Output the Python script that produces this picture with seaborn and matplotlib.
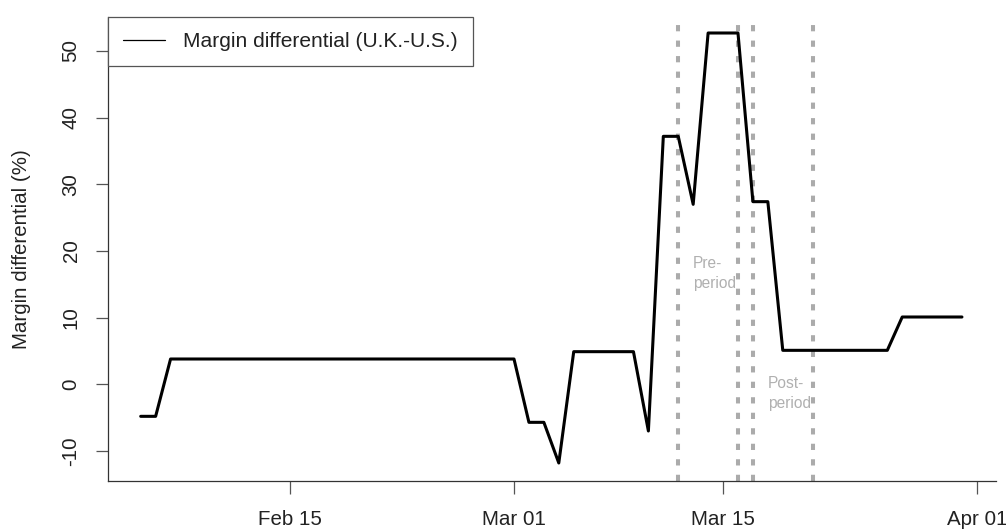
import matplotlib
matplotlib.use("Agg")
import matplotlib.pyplot as plt
import matplotlib.dates as mdates
import pandas as pd
import seaborn as sns

# ---------------- data ----------------
start_date = "2020-02-05"
end_date = "2020-03-31"
margin_diff = [
    -4.8, -4.8,                                   # Feb 5-6
    3.8, 3.8, 3.8, 3.8, 3.8, 3.8, 3.8, 3.8,       # Feb 7-14
    3.8, 3.8, 3.8, 3.8, 3.8, 3.8, 3.8, 3.8,       # Feb 15-22
    3.8, 3.8, 3.8, 3.8, 3.8, 3.8, 3.8,            # Feb 23-29
    3.8,                                          # Mar 1
    -5.7, -5.7,                                   # Mar 2-3
    -11.8,                                        # Mar 4
    4.9, 4.9, 4.9, 4.9, 4.9,                      # Mar 5-9
    -7.0,                                         # Mar 10
    37.2, 37.2,                                   # Mar 11-12
    27.0,                                         # Mar 13
    52.7, 52.7, 52.7,                             # Mar 14-16
    27.4, 27.4,                                   # Mar 17-18
    5.1, 5.1, 5.1, 5.1, 5.1, 5.1, 5.1, 5.1,       # Mar 19-26
    10.1, 10.1, 10.1, 10.1, 10.1,                 # Mar 27-31
]
period_lines = ["2020-03-12", "2020-03-16", "2020-03-17", "2020-03-21"]
x_tick_dates = ["2020-02-15", "2020-03-01", "2020-03-15", "2020-04-01"]
x_tick_labels = ["Feb 15", "Mar 01", "Mar 15", "Apr 01"]
y_ticks = [-10, 0, 10, 20, 30, 40, 50]
series_label = "Margin differential (U.K.-U.S.)"
y_label = "Margin differential (%)"

dates = pd.date_range(start_date, end_date, freq="D")
df = pd.DataFrame({"date": dates, "diff": margin_diff})

# ---------------- style ----------------
sns.set_style("white")
plt.rcParams["font.family"] = ["Liberation Sans", "DejaVu Sans"]

W, H = 1006, 529
fig = plt.figure(figsize=(W / 100, H / 100), dpi=100)
L, R, T, B = 108, 996, 17, 481
ax = fig.add_axes([L / W, 1 - B / H, (R - L) / W, (B - T) / H])

sns.lineplot(data=df, x="date", y="diff", color="black", linewidth=2.2,
             label=series_label, ax=ax, zorder=3)

for d in period_lines:
    ax.axvline(pd.Timestamp(d), color="#ababab", linewidth=2.9,
               dashes=(1.55, 2.3), zorder=2)

ax.text(pd.Timestamp("2020-03-13"), 16.6, "Pre-\nperiod", ha="left", va="center",
        fontsize=11.2, color="#b0b0b0", linespacing=1.45)
ax.text(pd.Timestamp("2020-03-18"), -1.35, "Post-\nperiod", ha="left", va="center",
        fontsize=11.2, color="#b0b0b0", linespacing=1.45)

# axes limits
m1 = mdates.date2num(pd.Timestamp("2020-03-01"))
ax.set_xlim(m1 - 27.19, m1 + 32.28)
ax.set_ylim(-14.5, 55.1)

ax.set_xticks([pd.Timestamp(d) for d in x_tick_dates])
ax.set_xticklabels(x_tick_labels)
ax.set_yticks(y_ticks)
ax.set_yticklabels([str(v) for v in y_ticks])

ax.set_xlabel("")
ax.set_ylabel(y_label, fontsize=14.8, color="#222222")
ax.yaxis.label.set_va("center")
ax.yaxis.set_label_coords(-(L - 22) / (R - L), 0.5)

ax.tick_params(axis="both", which="major", length=9, width=0.9, color="#555555",
               labelsize=14.8, labelcolor="#222222", direction="out",
               left=True, bottom=True)
ax.tick_params(axis="x", pad=12.2)
ax.tick_params(axis="y", pad=10.8, labelrotation=90)
for lab in ax.get_yticklabels():
    lab.set_va("center")

for s in ["top", "right"]:
    ax.spines[s].set_visible(False)
for s in ["left", "bottom"]:
    ax.spines[s].set_color("#333333")
    ax.spines[s].set_linewidth(0.9)

leg = ax.legend(loc="upper left", bbox_to_anchor=(0, 1), borderaxespad=0,
                frameon=True, fancybox=False, framealpha=1, facecolor="white",
                edgecolor="#555555", fontsize=15.1, borderpad=0.72,
                handlelength=2.0, handletextpad=0.86)
leg.get_frame().set_linewidth(0.9)
for ln in leg.get_lines():
    ln.set_linewidth(0.9)
for t in leg.get_texts():
    t.set_color("#222222")

fig.savefig("out.png", dpi=100)
